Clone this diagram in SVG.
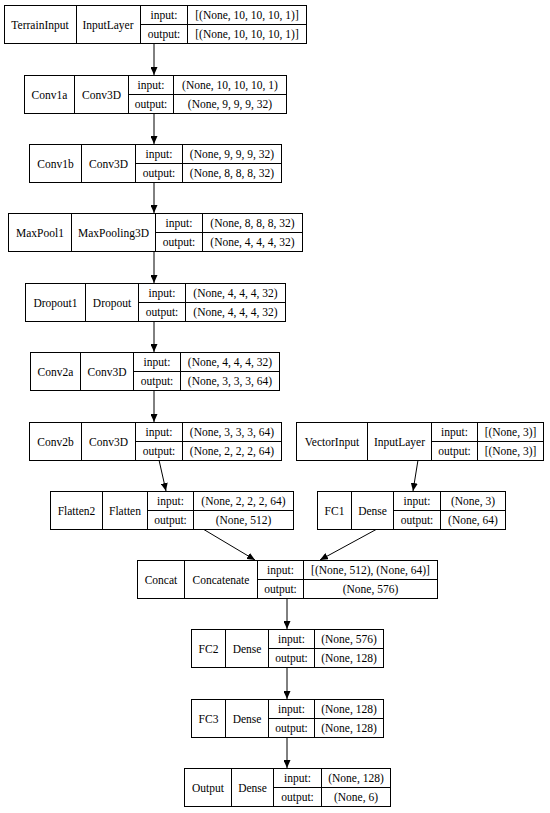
<svg xmlns="http://www.w3.org/2000/svg" width="550" height="813" viewBox="0 0 550 813" font-family="'Liberation Serif', 'DejaVu Serif', serif" font-size="11">
<defs>
<marker id="ah" markerWidth="8" markerHeight="7" refX="8" refY="3.5" orient="auto" markerUnits="userSpaceOnUse">
<path d="M0,0 L8,3.5 L0,7 Z" fill="#000"/>
</marker>
</defs>
<style>
rect{fill:#fff;stroke:#000;stroke-width:1}
line{stroke:#000;stroke-width:1}
text{font-family:'Liberation Serif','DejaVu Serif',serif;font-size:11.5px;fill:#000;text-anchor:middle;dominant-baseline:central}
</style>
<rect x="0" y="0" width="550" height="813" style="stroke:none;fill:#fff"/>
<g id="connectors">
<line x1="154" y1="43" x2="154" y2="75" marker-end="url(#ah)"/>
<line x1="154" y1="113" x2="154" y2="144" marker-end="url(#ah)"/>
<line x1="154" y1="182" x2="154" y2="213" marker-end="url(#ah)"/>
<line x1="154" y1="251" x2="154" y2="283" marker-end="url(#ah)"/>
<line x1="154" y1="321" x2="154" y2="352" marker-end="url(#ah)"/>
<line x1="154" y1="391" x2="154" y2="422" marker-end="url(#ah)"/>
<line x1="159" y1="460" x2="166" y2="491" marker-end="url(#ah)"/>
<line x1="418" y1="460" x2="413" y2="491" marker-end="url(#ah)"/>
<line x1="203" y1="529" x2="255" y2="560" marker-end="url(#ah)"/>
<line x1="377" y1="529" x2="320" y2="560" marker-end="url(#ah)"/>
<line x1="287" y1="599" x2="287" y2="629" marker-end="url(#ah)"/>
<line x1="287" y1="668" x2="287" y2="699" marker-end="url(#ah)"/>
<line x1="287" y1="737" x2="287" y2="768" marker-end="url(#ah)"/>
</g>
<g id="TerrainInput">
<rect x="4.5" y="5.5" width="302" height="38"/>
<line x1="76.5" y1="5.5" x2="76.5" y2="43.5"/><line x1="140.5" y1="5.5" x2="140.5" y2="43.5"/><line x1="187.5" y1="5.5" x2="187.5" y2="43.5"/><line x1="140.5" y1="24.5" x2="306.5" y2="24.5"/>
<text x="40" y="24.5">TerrainInput</text><text x="108" y="24.5">InputLayer</text>
<text x="164" y="15">input:</text><text x="164" y="34">output:</text>
<text x="247" y="15">[(None, 10, 10, 10, 1)]</text><text x="247" y="34">[(None, 10, 10, 10, 1)]</text>
</g>
<g id="Conv1a">
<rect x="24.5" y="75.5" width="262" height="38"/>
<line x1="74.5" y1="75.5" x2="74.5" y2="113.5"/><line x1="128.5" y1="75.5" x2="128.5" y2="113.5"/><line x1="173.5" y1="75.5" x2="173.5" y2="113.5"/><line x1="128.5" y1="94.5" x2="286.5" y2="94.5"/>
<text x="49.5" y="94.5">Conv1a</text><text x="101.5" y="94.5">Conv3D</text>
<text x="151" y="85">input:</text><text x="151" y="104">output:</text>
<text x="230" y="85">(None, 10, 10, 10, 1)</text><text x="230" y="104">(None, 9, 9, 9, 32)</text>
</g>
<g id="Conv1b">
<rect x="29.5" y="144.5" width="252" height="38"/>
<line x1="81.5" y1="144.5" x2="81.5" y2="182.5"/><line x1="135.5" y1="144.5" x2="135.5" y2="182.5"/><line x1="182.5" y1="144.5" x2="182.5" y2="182.5"/><line x1="135.5" y1="163.5" x2="281.5" y2="163.5"/>
<text x="55.5" y="163.5">Conv1b</text><text x="108.5" y="163.5">Conv3D</text>
<text x="159" y="154">input:</text><text x="159" y="173">output:</text>
<text x="232" y="154">(None, 9, 9, 9, 32)</text><text x="232" y="173">(None, 8, 8, 8, 32)</text>
</g>
<g id="MaxPool1">
<rect x="8.5" y="213.5" width="294" height="38"/>
<line x1="71.5" y1="213.5" x2="71.5" y2="251.5"/><line x1="155.5" y1="213.5" x2="155.5" y2="251.5"/><line x1="202.5" y1="213.5" x2="202.5" y2="251.5"/><line x1="155.5" y1="232.5" x2="302.5" y2="232.5"/>
<text x="40" y="232.5">MaxPool1</text><text x="113.5" y="232.5">MaxPooling3D</text>
<text x="179" y="223">input:</text><text x="179" y="242">output:</text>
<text x="252.5" y="223">(None, 8, 8, 8, 32)</text><text x="252.5" y="242">(None, 4, 4, 4, 32)</text>
</g>
<g id="Dropout1">
<rect x="25.5" y="283.5" width="260" height="38"/>
<line x1="85.5" y1="283.5" x2="85.5" y2="321.5"/><line x1="138.5" y1="283.5" x2="138.5" y2="321.5"/><line x1="185.5" y1="283.5" x2="185.5" y2="321.5"/><line x1="138.5" y1="302.5" x2="285.5" y2="302.5"/>
<text x="55.5" y="302.5">Dropout1</text><text x="112" y="302.5">Dropout</text>
<text x="162" y="293">input:</text><text x="162" y="312">output:</text>
<text x="235.5" y="293">(None, 4, 4, 4, 32)</text><text x="235.5" y="312">(None, 4, 4, 4, 32)</text>
</g>
<g id="Conv2a">
<rect x="30.5" y="352.5" width="249" height="38"/>
<line x1="80.5" y1="352.5" x2="80.5" y2="390.5"/><line x1="133.5" y1="352.5" x2="133.5" y2="390.5"/><line x1="180.5" y1="352.5" x2="180.5" y2="390.5"/><line x1="133.5" y1="371.5" x2="279.5" y2="371.5"/>
<text x="55.5" y="371.5">Conv2a</text><text x="107" y="371.5">Conv3D</text>
<text x="157" y="362">input:</text><text x="157" y="381">output:</text>
<text x="230" y="362">(None, 4, 4, 4, 32)</text><text x="230" y="381">(None, 3, 3, 3, 64)</text>
</g>
<g id="Conv2b">
<rect x="29.5" y="422.5" width="252" height="38"/>
<line x1="81.5" y1="422.5" x2="81.5" y2="460.5"/><line x1="135.5" y1="422.5" x2="135.5" y2="460.5"/><line x1="182.5" y1="422.5" x2="182.5" y2="460.5"/><line x1="135.5" y1="441.5" x2="281.5" y2="441.5"/>
<text x="55.5" y="441.5">Conv2b</text><text x="108.5" y="441.5">Conv3D</text>
<text x="159" y="432">input:</text><text x="159" y="451">output:</text>
<text x="232" y="432">(None, 3, 3, 3, 64)</text><text x="232" y="451">(None, 2, 2, 2, 64)</text>
</g>
<g id="VectorInput">
<rect x="296.5" y="422.5" width="247" height="38"/>
<line x1="367.5" y1="422.5" x2="367.5" y2="460.5"/><line x1="431.5" y1="422.5" x2="431.5" y2="460.5"/><line x1="477.5" y1="422.5" x2="477.5" y2="460.5"/><line x1="431.5" y1="441.5" x2="543.5" y2="441.5"/>
<text x="332" y="441.5">VectorInput</text><text x="399.5" y="441.5">InputLayer</text>
<text x="454.5" y="432">input:</text><text x="454.5" y="451">output:</text>
<text x="510.5" y="432">[(None, 3)]</text><text x="510.5" y="451">[(None, 3)]</text>
</g>
<g id="Flatten2">
<rect x="50.5" y="491.5" width="243" height="38"/>
<line x1="102.5" y1="491.5" x2="102.5" y2="529.5"/><line x1="147.5" y1="491.5" x2="147.5" y2="529.5"/><line x1="193.5" y1="491.5" x2="193.5" y2="529.5"/><line x1="147.5" y1="510.5" x2="293.5" y2="510.5"/>
<text x="76.5" y="510.5">Flatten2</text><text x="125" y="510.5">Flatten</text>
<text x="170.5" y="501">input:</text><text x="170.5" y="520">output:</text>
<text x="243.5" y="501">(None, 2, 2, 2, 64)</text><text x="243.5" y="520">(None, 512)</text>
</g>
<g id="FC1">
<rect x="317.5" y="491.5" width="188" height="38"/>
<line x1="351.5" y1="491.5" x2="351.5" y2="529.5"/><line x1="393.5" y1="491.5" x2="393.5" y2="529.5"/><line x1="440.5" y1="491.5" x2="440.5" y2="529.5"/><line x1="393.5" y1="510.5" x2="505.5" y2="510.5"/>
<text x="334.5" y="510.5">FC1</text><text x="372.5" y="510.5">Dense</text>
<text x="417" y="501">input:</text><text x="417" y="520">output:</text>
<text x="473" y="501">(None, 3)</text><text x="473" y="520">(None, 64)</text>
</g>
<g id="Concat">
<rect x="137.5" y="560.5" width="300" height="38"/>
<line x1="184.5" y1="560.5" x2="184.5" y2="598.5"/><line x1="257.5" y1="560.5" x2="257.5" y2="598.5"/><line x1="303.5" y1="560.5" x2="303.5" y2="598.5"/><line x1="257.5" y1="579.5" x2="437.5" y2="579.5"/>
<text x="161" y="579.5">Concat</text><text x="221" y="579.5">Concatenate</text>
<text x="280.5" y="570">input:</text><text x="280.5" y="589">output:</text>
<text x="370.5" y="570">[(None, 512), (None, 64)]</text><text x="370.5" y="589">(None, 576)</text>
</g>
<g id="FC2">
<rect x="191.5" y="629.5" width="192" height="38"/>
<line x1="225.5" y1="629.5" x2="225.5" y2="667.5"/><line x1="268.5" y1="629.5" x2="268.5" y2="667.5"/><line x1="314.5" y1="629.5" x2="314.5" y2="667.5"/><line x1="268.5" y1="648.5" x2="383.5" y2="648.5"/>
<text x="208.5" y="648.5">FC2</text><text x="247" y="648.5">Dense</text>
<text x="291.5" y="639">input:</text><text x="291.5" y="658">output:</text>
<text x="349" y="639">(None, 576)</text><text x="349" y="658">(None, 128)</text>
</g>
<g id="FC3">
<rect x="191.5" y="699.5" width="192" height="38"/>
<line x1="225.5" y1="699.5" x2="225.5" y2="737.5"/><line x1="268.5" y1="699.5" x2="268.5" y2="737.5"/><line x1="314.5" y1="699.5" x2="314.5" y2="737.5"/><line x1="268.5" y1="718.5" x2="383.5" y2="718.5"/>
<text x="208.5" y="718.5">FC3</text><text x="247" y="718.5">Dense</text>
<text x="291.5" y="709">input:</text><text x="291.5" y="728">output:</text>
<text x="349" y="709">(None, 128)</text><text x="349" y="728">(None, 128)</text>
</g>
<g id="Output">
<rect x="184.5" y="768.5" width="206" height="38"/>
<line x1="231.5" y1="768.5" x2="231.5" y2="806.5"/><line x1="273.5" y1="768.5" x2="273.5" y2="806.5"/><line x1="321.5" y1="768.5" x2="321.5" y2="806.5"/><line x1="273.5" y1="787.5" x2="390.5" y2="787.5"/>
<text x="208" y="787.5">Output</text><text x="252.5" y="787.5">Dense</text>
<text x="297.5" y="778">input:</text><text x="297.5" y="797">output:</text>
<text x="356" y="778">(None, 128)</text><text x="356" y="797">(None, 6)</text>
</g>
</svg>
